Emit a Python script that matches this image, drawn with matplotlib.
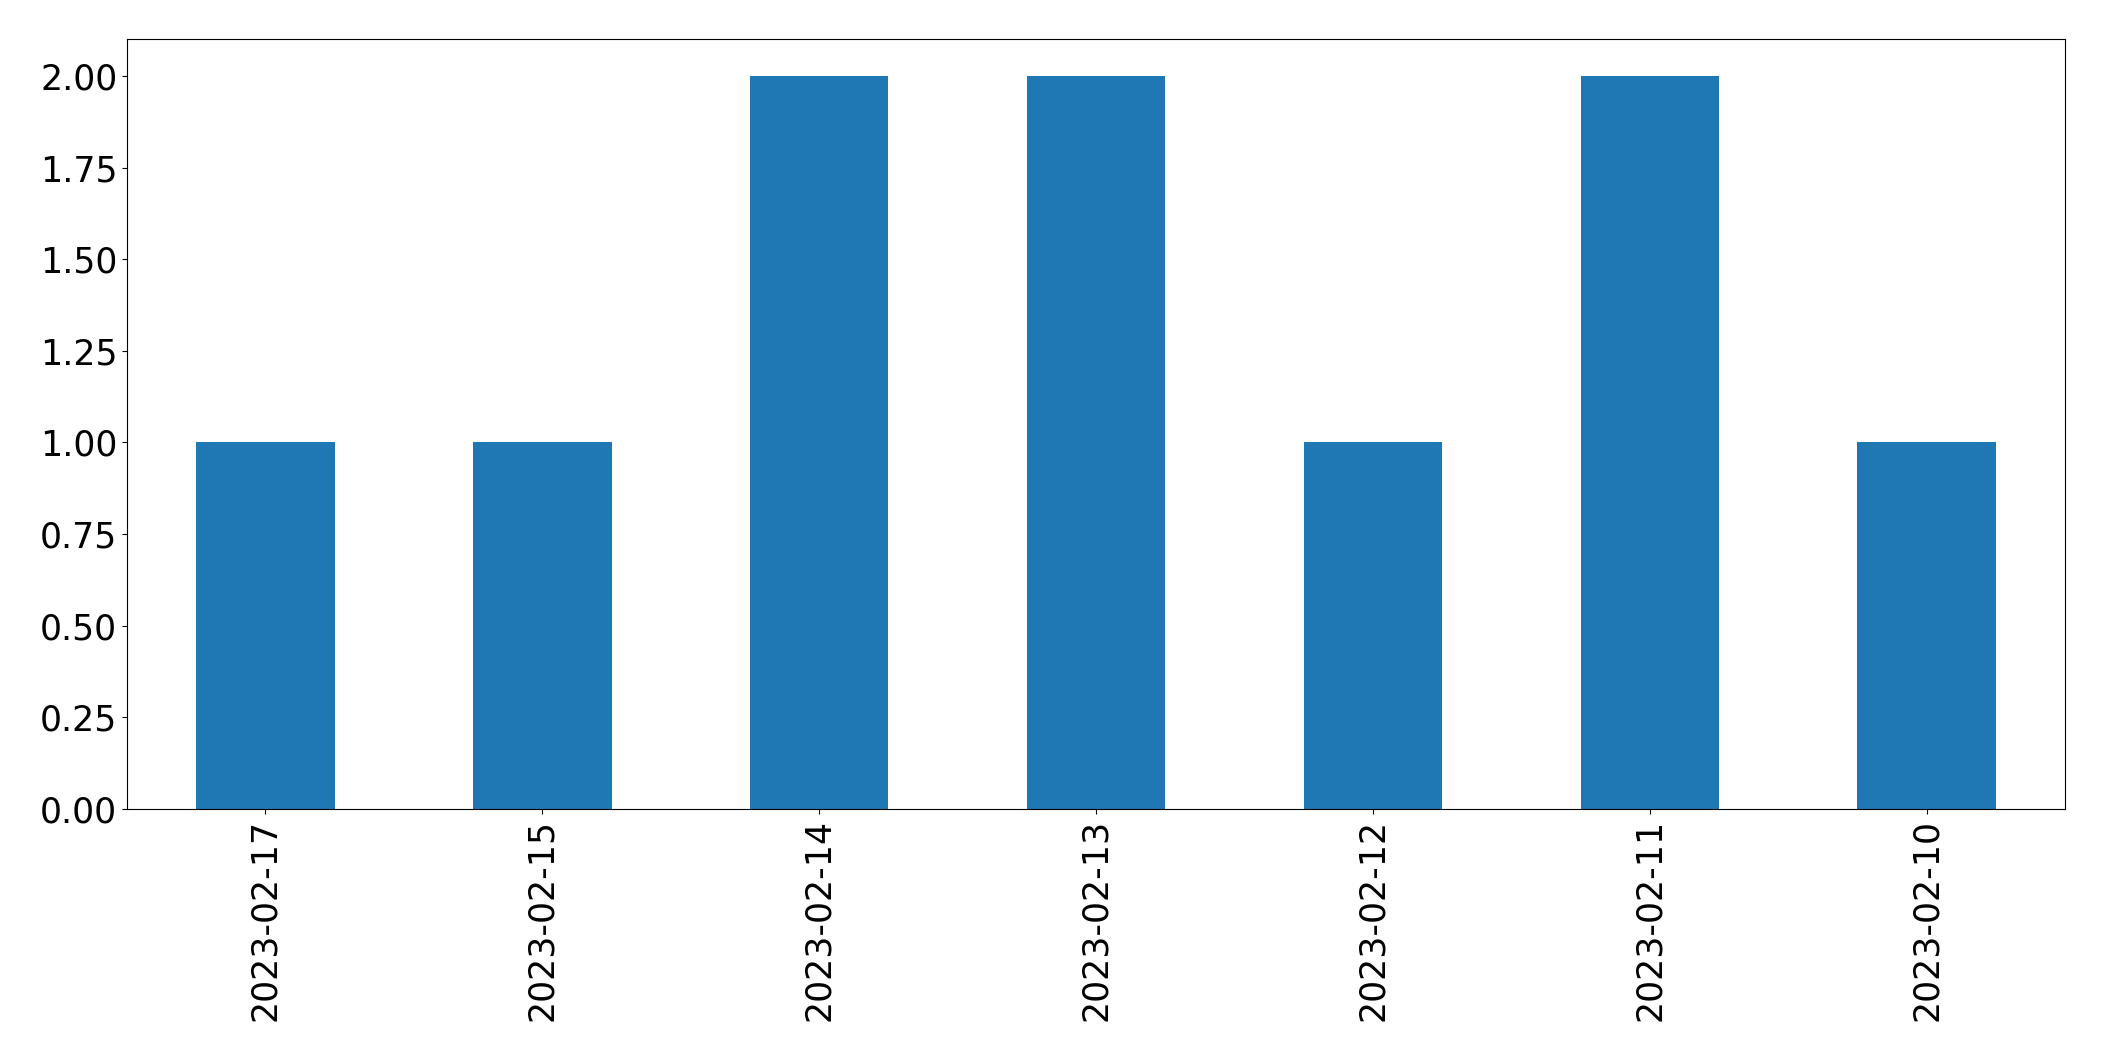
import matplotlib
matplotlib.use("Agg")
import matplotlib.pyplot as plt
import pandas as pd

dates = ['2023-02-17', '2023-02-15', '2023-02-14', '2023-02-13',
         '2023-02-12', '2023-02-11', '2023-02-10']
counts = [1, 1, 2, 2, 1, 2, 1]

s = pd.Series(counts, index=dates)

fig = plt.figure(figsize=(21.04, 10.61), dpi=100)
ax = fig.add_axes([127 / 2104, 1 - 809 / 1061, (2065 - 127) / 2104, (809 - 39.3) / 1061])

s.plot(kind='bar', ax=ax, color='#1f77b4')
ax.tick_params(axis='both', labelsize=25)
ax.set_yticks([0, 0.25, 0.5, 0.75, 1.0, 1.25, 1.5, 1.75, 2.0])
ax.yaxis.set_major_formatter(matplotlib.ticker.FormatStrFormatter('%.2f'))

fig.savefig('out.png', dpi=100)
